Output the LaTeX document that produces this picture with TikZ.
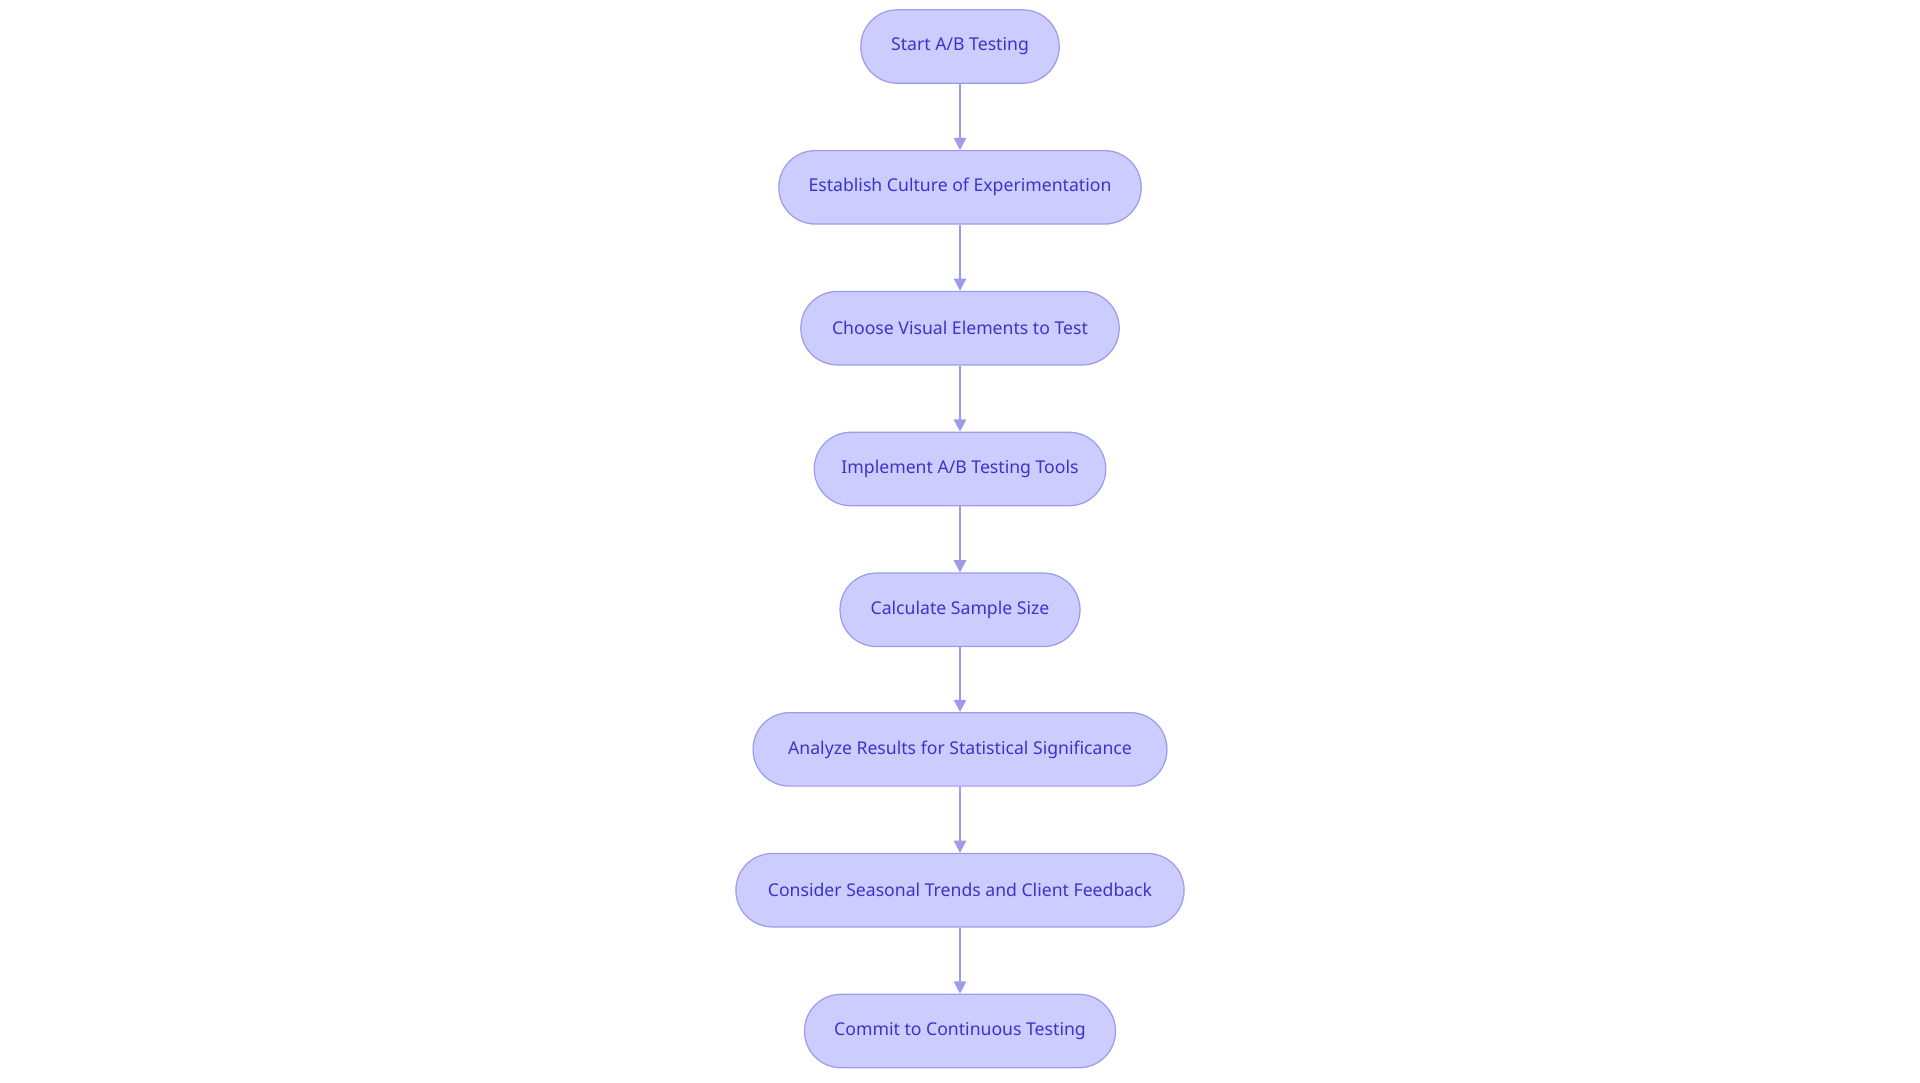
\documentclass[tikz,border=0pt]{standalone}
\usepackage{fontspec}
\setmainfont{Noto Sans}
\usetikzlibrary{arrows.meta}
\definecolor{fillc}{HTML}{CCCCFF}
\definecolor{linec}{HTML}{9C9CEB}
\definecolor{textc}{HTML}{3A35C9}
\tikzset{
  box/.style={draw=linec, fill=fillc, line width=0.5pt, rounded corners=14.9pt,
    minimum height=30pt, inner sep=0pt, text=textc, font=\fontsize{7.2pt}{8pt}\selectfont},
  conn/.style={draw=linec, line width=0.8pt, -{Triangle[length=5pt,width=5pt]}}
}
\begin{document}
\begin{tikzpicture}[x=0.5pt,y=-0.5pt]
\useasboundingbox (0,0) rectangle (1568,884);
\node[box, minimum width=81pt] (n1) at (784,38) {Start A/B Testing};
\node[box, minimum width=148pt] (n2) at (784,153) {Establish Culture of Experimentation};
\node[box, minimum width=130pt] (n3) at (784,268) {Choose Visual Elements to Test};
\node[box, minimum width=119pt] (n4) at (784,383) {Implement A/B Testing Tools};
\node[box, minimum width=98pt] (n5) at (784,498) {Calculate Sample Size};
\node[box, minimum width=169pt] (n6) at (784,612) {Analyze Results for Statistical Significance};
\node[box, minimum width=183pt] (n7) at (784,727) {Consider Seasonal Trends and Client Feedback};
\node[box, minimum width=127pt] (n8) at (784,842) {Commit to Continuous Testing};
\foreach \a/\b in {n1/n2,n2/n3,n3/n4,n4/n5,n5/n6,n6/n7,n7/n8}
  \draw[conn] (\a) -- (\b);
\end{tikzpicture}
\end{document}
